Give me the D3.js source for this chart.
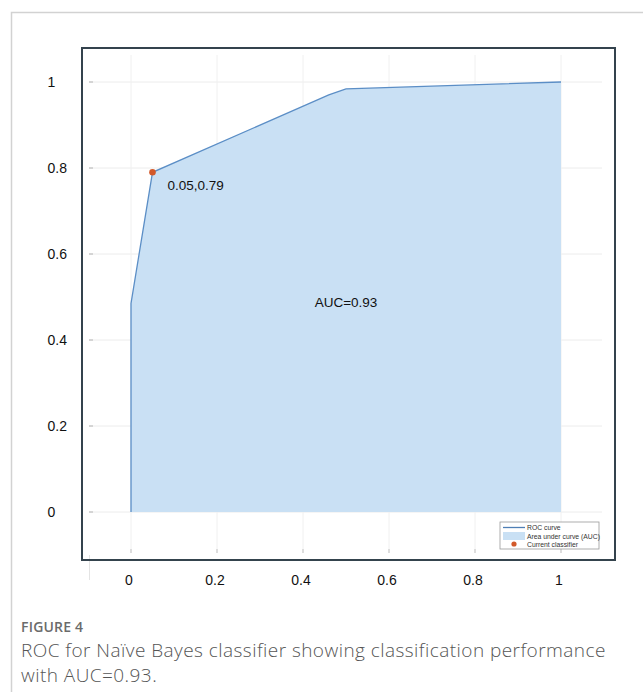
<!DOCTYPE html>
<html>
<head>
<meta charset="utf-8">
<script src="https://cdn.jsdelivr.net/npm/d3@7"></script>
<style>
  body { margin: 0; background: #fff; }
  svg { display: block; }
</style>
</head>
<body>
<div id="chart"></div>
<script>
// ROC curve points (false positive rate, true positive rate)
var fpr = [0, 0, 0.05, 0.46, 0.5, 1];
var tpr = [0, 0.485, 0.79, 0.97, 0.984, 1];
var current = {fpr: 0.05, tpr: 0.79, label: "0.05,0.79"};
var auc = 0.93;
var tickValues = [0, 0.2, 0.4, 0.6, 0.8, 1];
var tickLabels = ["0", "0.2", "0.4", "0.6", "0.8", "1"];
var legendItems = ["ROC curve", "Area under curve (AUC)", "Current classifier"];
var captionTitle = "FIGURE 4";
var captionLines = ["ROC for Naïve Bayes classifier showing classification performance", "with AUC=0.93."];

var width = 643, height = 692;
var lineColor = "#5b8ec6", fillColor = "#c9e0f4", dotColor = "#d2592a";

var svg = d3.select("#chart").append("svg")
	.attr("width", width)
	.attr("height", height);

// card border (left + top)
svg.append("path")
	.attr("d", "M11.5," + height + "V12.5H" + width)
	.style("fill", "none")
	.style("stroke", "#d2d2d2")
	.style("stroke-width", 1.5);

var x = d3.scaleLinear().domain([0, 1]).range([131, 561]);
var y = d3.scaleLinear().domain([0, 1]).range([512, 82]);

var pts = fpr.map(function(d, i) { return [d, tpr[i]]; });

// grid
svg.append("g").selectAll("line").data(tickValues).enter().append("line")
	.attr("x1", 93).attr("x2", 602)
	.attr("y1", function(d) { return y(d); }).attr("y2", function(d) { return y(d); })
	.style("stroke", "#ececec");
svg.append("g").selectAll("line").data(tickValues).enter().append("line")
	.attr("x1", 89).attr("x2", 93)
	.attr("y1", function(d) { return y(d); }).attr("y2", function(d) { return y(d); })
	.style("stroke", "#aaa");
svg.append("g").selectAll("line").data(tickValues).enter().append("line")
	.attr("y1", 55).attr("y2", 549)
	.attr("x1", function(d) { return x(d); }).attr("x2", function(d) { return x(d); })
	.style("stroke", "#f0f0f0");
svg.append("g").selectAll("line").data(tickValues).enter().append("line")
	.attr("y1", 549).attr("y2", 553)
	.attr("x1", function(d) { return x(d); }).attr("x2", function(d) { return x(d); })
	.style("stroke", "#bbb");
svg.append("line")
	.attr("x1", 89.5).attr("x2", 89.5).attr("y1", 555).attr("y2", 580)
	.style("stroke", "#e4e4e4");

// area + curve
var area = d3.area()
	.x(function(d) { return x(d[0]); })
	.y0(y(0))
	.y1(function(d) { return y(d[1]); });
svg.append("path")
	.datum(pts)
	.attr("d", area)
	.style("fill", fillColor);

var line = d3.line()
	.x(function(d) { return x(d[0]); })
	.y(function(d) { return y(d[1]); });
svg.append("path")
	.datum(pts)
	.attr("d", line)
	.style("fill", "none")
	.style("stroke", lineColor)
	.style("stroke-width", 1.3);

svg.append("circle")
	.attr("cx", x(current.fpr))
	.attr("cy", y(current.tpr))
	.attr("r", 3.3)
	.style("fill", dotColor);

svg.append("text")
	.attr("x", x(current.fpr) + 15)
	.attr("y", y(current.tpr) + 18)
	.style("font", "13.5px 'Liberation Sans', Arial, sans-serif")
	.style("fill", "#111")
	.text(current.label);

svg.append("text")
	.attr("x", x(0.5))
	.attr("y", 307)
	.attr("text-anchor", "middle")
	.style("font", "13.5px 'Liberation Sans', Arial, sans-serif")
	.style("fill", "#111")
	.text("AUC=" + auc);

// frame
svg.append("rect")
	.attr("x", 82).attr("y", 48)
	.attr("width", 533).attr("height", 512)
	.style("fill", "none")
	.style("stroke", "#34434d")
	.style("stroke-width", 2);

// tick labels
svg.append("g").selectAll("text").data(tickValues).enter().append("text")
	.attr("x", 47.5)
	.attr("y", function(d) { return y(d) + 5; })
	.style("font", "14px 'Liberation Sans', Arial, sans-serif")
	.style("fill", "#111")
	.text(function(d, i) { return tickLabels[i]; });
svg.append("g").selectAll("text").data(tickValues).enter().append("text")
	.attr("x", function(d) { return x(d) - 2; })
	.attr("y", 585)
	.attr("text-anchor", "middle")
	.style("font", "14px 'Liberation Sans', Arial, sans-serif")
	.style("fill", "#111")
	.text(function(d, i) { return tickLabels[i]; });

// legend
var lg = svg.append("g").attr("transform", "translate(500,522)");
lg.append("rect")
	.attr("width", 99).attr("height", 27)
	.style("fill", "#fff")
	.style("stroke", "#999")
	.style("stroke-width", 0.8);
lg.append("line")
	.attr("x1", 3).attr("x2", 25).attr("y1", 5.5).attr("y2", 5.5)
	.style("stroke", "#4f7fb5").style("stroke-width", 1.3);
lg.append("rect")
	.attr("x", 3).attr("y", 10).attr("width", 22).attr("height", 8)
	.style("fill", fillColor);
lg.append("circle")
	.attr("cx", 14).attr("cy", 22).attr("r", 2.6)
	.style("fill", dotColor);
lg.selectAll("text.leg").data(legendItems).enter().append("text")
	.attr("class", "leg")
	.attr("x", 27)
	.attr("y", function(d, i) { return 8 + i * 8.5; })
	.style("font", "6.8px 'Liberation Sans', Arial, sans-serif")
	.style("fill", "#333")
	.text(function(d) { return d; });

// caption
svg.append("text")
	.attr("x", 21).attr("y", 632)
	.style("font", "600 14px 'Open Sans', sans-serif")
	.style("letter-spacing", "0.2px")
	.style("fill", "#6b6b6b")
	.text(captionTitle);
svg.selectAll("text.cap").data(captionLines).enter().append("text")
	.attr("class", "cap")
	.attr("x", 21)
	.attr("y", function(d, i) { return 657 + i * 25; })
	.style("font", "300 19px 'Open Sans', sans-serif")
	.style("letter-spacing", "0.45px")
	.style("fill", "#555")
	.text(function(d) { return d; });
</script>
</body>
</html>
